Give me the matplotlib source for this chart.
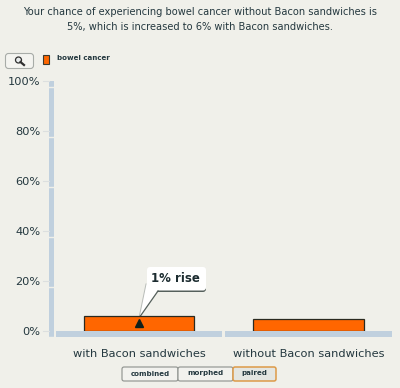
import numpy as np
import matplotlib.pyplot as plt
from matplotlib.patches import FancyBboxPatch, Polygon, Rectangle, Circle

categories = ['with Bacon sandwiches', 'without Bacon sandwiches']
values = [6, 5]
yticks = [0, 20, 40, 60, 80, 100]
yticklabels = ['0%', '20%', '40%', '60%', '80%', '100%']
title = ('Your chance of experiencing bowel cancer without Bacon sandwiches is\n'
         '5%, which is increased to 6% with Bacon sandwiches.')
buttons = ['combined', 'morphed', 'paired']

bg = '#f0f0ea'
band = '#c0d0de'
orange = '#ff6600'
txt = '#24383f'
W, H = 400, 388

fig = plt.figure(figsize=(4, 3.88), dpi=100, facecolor=bg)

# overlay in pixel coordinates for the interface bits
ov = fig.add_axes([0, 0, 1, 1], zorder=0)
ov.set_xlim(0, W)
ov.set_ylim(H, 0)
ov.axis('off')

ax = fig.add_axes([54.25 / W, 1 - 331 / H, 339 / W, 250 / H], zorder=1)
ax.patch.set_alpha(0)
ax.set_xlim(-0.5, 1.5)
ax.set_ylim(0, 100)
for s in ax.spines.values():
    s.set_visible(False)

ax.bar(range(2), values, width=0.65, color=orange, edgecolor='#2a2a20', linewidth=0.9, zorder=3)
ax.set_xticks(range(2))
ax.set_xticklabels(categories, fontsize=8.2, color=txt)
ax.tick_params(axis='x', length=0, pad=13)
ax.set_yticks(yticks)
ax.set_yticklabels(yticklabels, fontsize=8.2, color=txt)
ax.tick_params(axis='y', length=0, pad=10)

# axis bands
ov.add_patch(Rectangle((49, 81), 5, 256, color=band, lw=0))
ov.add_patch(Rectangle((56, 331), 166, 6, color=band, lw=0))
ov.add_patch(Rectangle((225, 331), 167, 6, color=band, lw=0))
for t in yticks:
    y = 331 - t * 2.5
    ov.plot([43, 49], [y, y], color='#dcdfdf', lw=0.8)
    ov.plot([49, 54], [y + 6, y + 6], color=bg, lw=1)

# title
fig.text(0.5, 1 - 19.5 / H, title, ha='center', va='center', fontsize=7.1, color=txt, linespacing=1.65)

# magnifier button
ov.add_patch(FancyBboxPatch((5.5, 53.5), 28, 15, boxstyle='round,pad=0,rounding_size=3',
                            fc='#f4f4f0', ec='#a8aca8', lw=0.8))
ov.add_patch(Circle((18.5, 60), 3, fc='#e8ecec', ec='#303030', lw=0.9))
ov.plot([20.5, 24], [62, 65], color='#303030', lw=1.6)

# legend
ov.add_patch(Rectangle((43, 54.5), 6, 9.5, fc=orange, ec='#3a3a30', lw=0.8))
ov.text(57, 58.5, 'bowel cancer', fontsize=5.1, fontweight='bold', color=txt, va='center')

# callout
ov.add_patch(FancyBboxPatch((147, 270), 59, 22, boxstyle='round,pad=0,rounding_size=3',
                            fc='#55605c', ec='none', zorder=4))
ov.add_patch(FancyBboxPatch((147, 267), 59, 23.5, boxstyle='round,pad=0,rounding_size=3',
                            fc='white', ec='none', zorder=5))
ov.add_patch(Polygon([[146, 284], [158, 290], [139, 318]], fc='white', ec='none', zorder=5))
ov.plot([146, 139], [284, 318], color='#b8bcb8', lw=0.7, zorder=6)
ov.plot([158, 139], [291, 318], color='#55605c', lw=0.9, zorder=6)
ov.text(175.5, 278.5, '1% rise', fontsize=8.5, fontweight='bold', color='#1c2c30',
        ha='center', va='center', zorder=7)

ax.plot([0], [3.2], marker='^', ms=6, color='#10201c', ls='none', zorder=6, clip_on=False)

# toggle buttons
xs = [122, 178, 233]
ws = [56, 55, 43]
for lab, x, w in zip(buttons, xs, ws):
    on = lab == 'paired'
    ov.add_patch(FancyBboxPatch((x, 367), w, 14, boxstyle='round,pad=0,rounding_size=2',
                                fc='#e4e6e2' if on else '#f2f2ee',
                                ec='#dd9a48' if on else '#8c908c', lw=1.1 if on else 0.8,
                                zorder=3 if on else 2))
    ov.text(x + w / 2, 373.5, lab, fontsize=5.1, fontweight='bold', color=txt,
            ha='center', va='center', zorder=4)

fig.savefig('out.png', dpi=100, facecolor=bg)
